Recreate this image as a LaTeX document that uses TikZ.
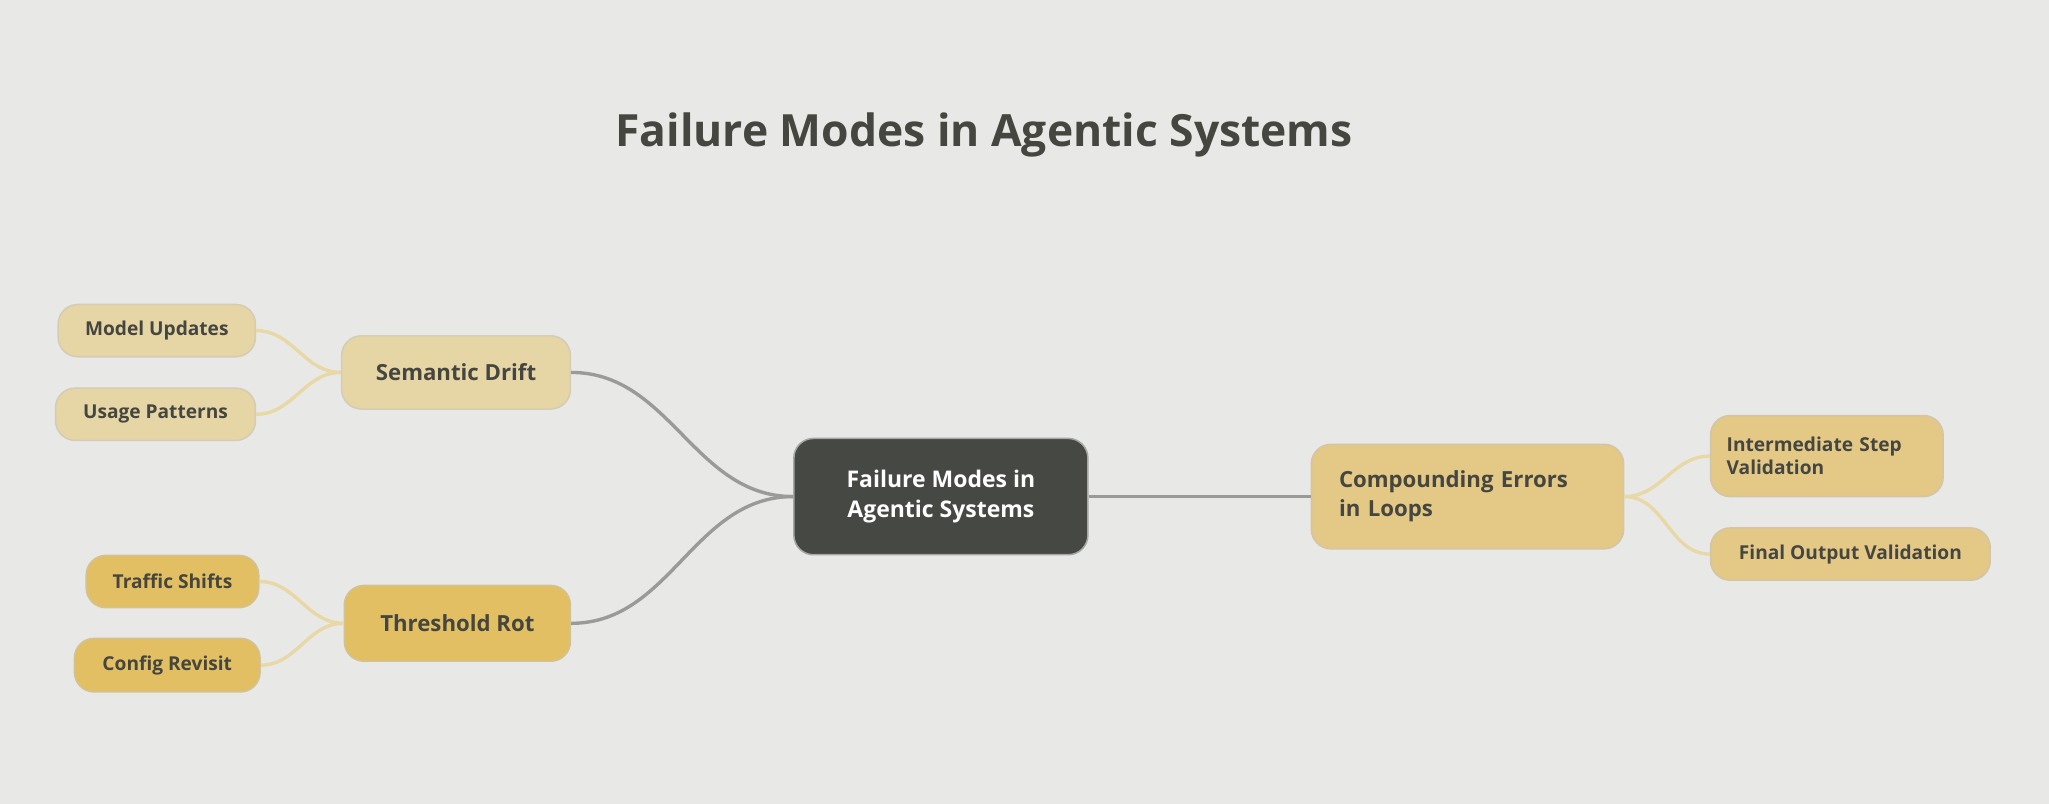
\documentclass[tikz,border=0pt]{standalone}
\usepackage{fontspec}
\setmainfont{Open Sans}
\begin{document}
\begin{tikzpicture}[x=0.03cm,y=-0.03cm,
  box/.style={draw=#1!80!black!60, line width=1pt, rounded corners=0.45cm, fill=#1, text=txt, font=\bfseries, align=center, inner sep=0pt},
  main/.style={draw=edgeg, line width=2.2pt},
  sub/.style={draw=subl, line width=2.2pt}]
\definecolor{bg}{HTML}{E8E8E6}
\definecolor{txt}{HTML}{45463F}
\definecolor{cen}{HTML}{464843}
\definecolor{sd}{HTML}{E6D5A5}
\definecolor{tr}{HTML}{E2BF62}
\definecolor{ce}{HTML}{E3C886}
\definecolor{edgeg}{HTML}{9A9A98}
\definecolor{subl}{HTML}{E8D8A6}
\fill[bg] (0,0) rectangle (1568,615);
\useasboundingbox (0,0) rectangle (1568,615);
\node[text=txt, font=\fontsize{29}{34}\selectfont\bfseries] (title) at (753,103) {Failure Modes in Agentic Systems};
\node[box=cen, draw=gray!70, text=white, minimum width=6.75cm, minimum height=2.67cm, font=\fontsize{15}{20}\selectfont\bfseries] (c) at (720,380) {Failure Modes in\\Agentic Systems};
\node[box=sd, minimum width=5.25cm, minimum height=1.68cm, font=\fontsize{14.5}{18}\selectfont\bfseries] (s) at (349,285) {Semantic Drift};
\node[box=tr, minimum width=5.19cm, minimum height=1.74cm, font=\fontsize{14.5}{18}\selectfont\bfseries] (t) at (350,477) {Threshold Rot};
\node[box=ce, minimum width=7.17cm, minimum height=2.4cm, text width=5.9cm, align=left, font=\fontsize{14.5}{19}\selectfont\bfseries] (p) at (1123,380) {Compounding Errors\\in Loops};
\node[box=sd, minimum width=4.53cm, minimum height=1.2cm, font=\fontsize{12.5}{15}\selectfont\bfseries] (m) at (120,253) {Model Updates};
\node[box=sd, minimum width=4.59cm, minimum height=1.2cm, font=\fontsize{12.5}{15}\selectfont\bfseries] (u) at (119,317) {Usage Patterns};
\node[box=tr, minimum width=3.96cm, minimum height=1.2cm, font=\fontsize{12.5}{15}\selectfont\bfseries] (ts) at (132,445) {Traffic Shifts};
\node[box=tr, minimum width=4.26cm, minimum height=1.23cm, font=\fontsize{12.5}{15}\selectfont\bfseries] (cr) at (128,509) {Config Revisit};
\node[box=ce, minimum width=5.34cm, minimum height=1.86cm, text width=4.6cm, align=left, font=\fontsize{12.5}{15}\selectfont\bfseries] (iv) at (1398,349) {Intermediate Step\\Validation};
\node[box=ce, minimum width=6.42cm, minimum height=1.2cm, font=\fontsize{12.5}{15}\selectfont\bfseries] (fv) at (1416,424) {Final Output Validation};
\begin{scope}[on background layer/.try]
\end{scope}
\draw[main] (c.west) to[out=180,in=0] (s.east);
\draw[main] (c.west) to[out=180,in=0] (t.east);
\draw[main] (c.east) -- (p.west);
\draw[sub] (s.west) to[out=180,in=0] (m.east);
\draw[sub] (s.west) to[out=180,in=0] (u.east);
\draw[sub] (t.west) to[out=180,in=0] (ts.east);
\draw[sub] (t.west) to[out=180,in=0] (cr.east);
\draw[sub] (p.east) to[out=0,in=180] (iv.west);
\draw[sub] (p.east) to[out=0,in=180] (fv.west);
\end{tikzpicture}
\end{document}
